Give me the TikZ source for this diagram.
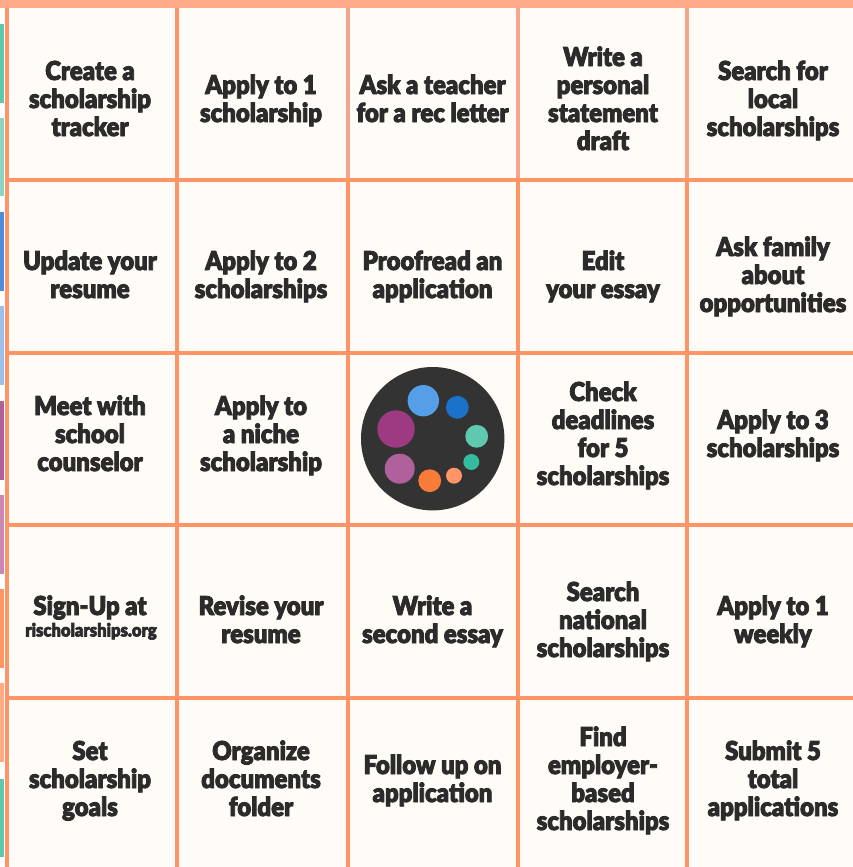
\documentclass[tikz,border=0pt]{standalone}
\usepackage{fontspec}
\setmainfont[FakeStretch=0.92,FakeBold=3.2]{Lato Black}
\definecolor{grid}{HTML}{FF9566}
\definecolor{gridpale}{HTML}{F5A58C}
\definecolor{topband}{HTML}{FFAA88}
\definecolor{cellbg}{HTML}{FFFCF7}
\definecolor{ink}{HTML}{2B2B2B}
\definecolor{cTeal}{HTML}{5FC9B0}
\definecolor{cTealL}{HTML}{8AD4C2}
\definecolor{cBlue}{HTML}{4A8FDC}
\definecolor{cBlueL}{HTML}{9BC0EE}
\definecolor{cMauve}{HTML}{B0609B}
\definecolor{cMauveL}{HTML}{C888B5}
\definecolor{cOrange}{HTML}{FF9566}
\definecolor{cOrangeL}{HTML}{FFAB88}
\definecolor{dBlue}{HTML}{559EE8}
\definecolor{dBlueD}{HTML}{1A73C9}
\definecolor{dGreen}{HTML}{35BC9E}
\definecolor{dOrange}{HTML}{F97B38}
\definecolor{dPurple}{HTML}{9E3A82}
\definecolor{dBadge}{HTML}{333333}
\tikzset{x=1pt,y=-1pt,
 cell/.style={align=center,text=ink,inner sep=0pt,yshift=-3.4pt,font=\fontsize{26}{28}\selectfont},
 gridline/.style={draw=grid,line width=4pt},
 paleline/.style={draw=gridpale,line width=4pt}}
\begin{document}
\begin{tikzpicture}
\useasboundingbox (0,0) rectangle (853,867);
\fill[white] (0,0) rectangle (853,867);
\fill[cellbg] (6,0) rectangle (853,867);
% side tabs
\fill[cTeal] (0,24) rectangle (4,103);
\fill[cTealL] (0,118) rectangle (4,196);
\fill[cBlue] (0,212) rectangle (4,291);
\fill[cBlueL] (0,306) rectangle (4,385);
\fill[cMauve] (0,401) rectangle (4,480);
\fill[cMauveL] (0,495) rectangle (4,574);
\fill[cOrange] (0,589) rectangle (4,668);
\fill[cOrangeL] (0,683) rectangle (4,762);
\fill[cTeal] (0,779) rectangle (4,857);
% grid
\foreach \y in {179.5,352.5,524.5,697.5} \draw[gridline] (6,\y) -- (853,\y);
\draw[gridline] (6.7,0) -- (6.7,867);
\draw[gridline] (177,0) -- (177,867);
\draw[gridline] (347.5,178) -- (347.5,867);
\draw[gridline] (518,178) -- (518,867);
\draw[gridline] (687,178) -- (687,867);
\draw[paleline] (347.5,6) -- (347.5,178);
\draw[paleline] (518,6) -- (518,178);
\draw[paleline] (687,6) -- (687,178);
\fill[topband] (0,0) rectangle (853,8);
% row 1
\node[cell] (a1) at (90,99) {\strut Create a\\scholarship\\\strut tracker};
\node[cell] (a2) at (261,99) {\strut Apply to 1\\\strut scholarship};
\node[cell] (a3) at (432.5,99) {\strut Ask a teacher\\\strut for a rec letter};
\node[cell] (a4) at (603,99) {\strut Write a\\personal\\statement\\\strut draft};
\node[cell] (a5) at (773,99) {\strut Search for\\local\\\strut scholarships};
% row 2
\node[cell] (b1) at (90,275) {\strut Update your\\\strut resume};
\node[cell] (b2) at (261,275) {\strut Apply to 2\\\strut scholarships};
\node[cell] (b3) at (432.5,275) {\strut Proofread an\\\strut application};
\node[cell] (b4) at (603,275) {\strut Edit\\\strut your essay};
\node[cell] (b5) at (773,275) {\strut Ask family\\about\\\strut opportunities};
% row 3
\node[cell] (c1) at (90,434) {\strut Meet with\\school\\\strut counselor};
\node[cell] (c2) at (261,434) {\strut Apply to\\a niche\\\strut scholarship};
\node[cell] (c4) at (603,434) {\strut Check\\deadlines\\for 5\\\strut scholarships};
\node[cell] (c5) at (773,434) {\strut Apply to 3\\\strut scholarships};
% centre badge
\fill[dBadge] (432.7,438.7) circle (71.7);
\fill[dBlue] (423.3,400.7) circle (15.7);
\fill[dBlueD] (457.3,407.3) circle (11.4);
\fill[cTeal] (476.7,436.3) circle (11.4);
\fill[dGreen] (471.3,462) circle (8);
\fill[cOrange] (454,475.7) circle (8);
\fill[dOrange] (429.7,480.7) circle (11.4);
\fill[cMauve] (399.7,468.7) circle (15);
\fill[dPurple] (396,429) circle (18.7);
% row 4
\node[cell] (d1a) at (90,606) {\strut Sign-Up at};
\node[cell,font=\fontsize{18}{18}\selectfont] (d1b) at (91,629) {\strut rischolarships.org};
\node[cell] (d2) at (261,620) {\strut Revise your\\\strut resume};
\node[cell] (d3) at (432.5,620) {\strut Write a\\\strut second essay};
\node[cell] (d4) at (603,620) {\strut Search\\national\\\strut scholarships};
\node[cell] (d5) at (773,620) {\strut Apply to 1\\\strut weekly};
% row 5
\node[cell] (e1) at (90,779) {\strut Set\\scholarship\\\strut goals};
\node[cell] (e2) at (261,779) {\strut Organize\\documents\\\strut folder};
\node[cell] (e3) at (432.5,779) {\strut Follow up on\\\strut application};
\node[cell] (e4) at (603,779) {\strut Find\\employer-\\based\\\strut scholarships};
\node[cell] (e5) at (773,779) {\strut Submit 5\\total\\\strut applications};
\end{tikzpicture}
\end{document}
